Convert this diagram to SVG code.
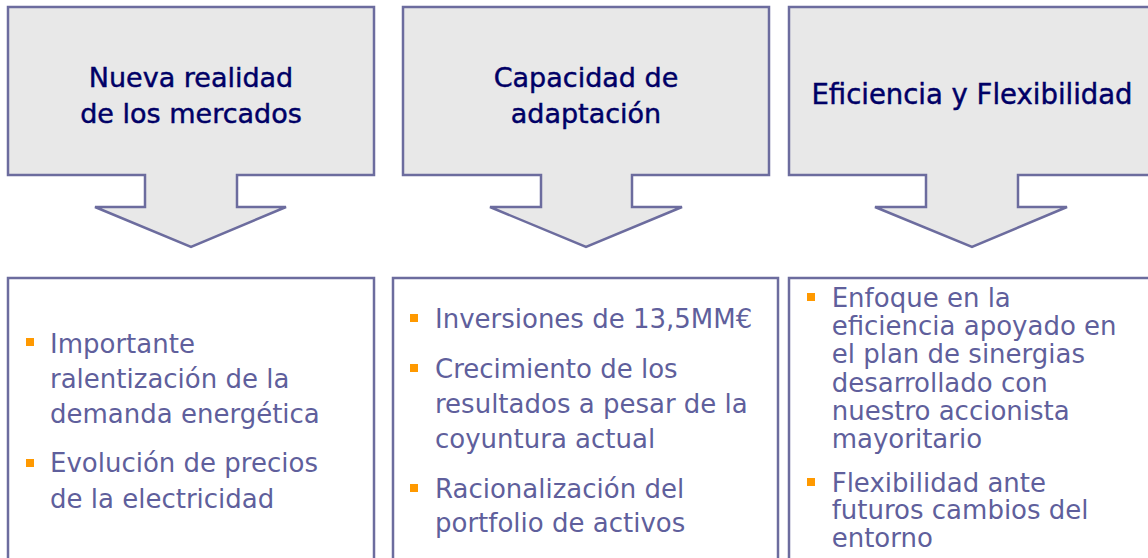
<svg xmlns="http://www.w3.org/2000/svg" width="1148" height="558" viewBox="0 0 1148 558">
<style>
.callout{fill:#E8E8E8;stroke:#6C6C9E;stroke-width:2.5;stroke-linejoin:miter}
.box{fill:#FFFFFF;stroke:#6C6C9E;stroke-width:2.5}
.title{font-family:"DejaVu Sans",Verdana,sans-serif;font-size:27px;fill:#000066;stroke:#000066;stroke-width:0.45;text-anchor:middle}
.body{font-family:"DejaVu Sans",Verdana,sans-serif;font-size:26px;fill:#5F5F9C}
.bul{fill:#FF9900}
</style>
<rect width="1148" height="558" fill="#FFFFFF"/>
<g id="callout-mercados">
<path class="callout" d="M8,7 H374 V175 H237 V207 H286 L191,247 L95,207 H145 V175 H8 Z"/>
<text class="title" x="191" y="87">Nueva realidad</text>
<text class="title" x="191" y="122.5">de los mercados</text>
</g>
<g id="callout-adaptacion">
<path class="callout" d="M403,7 H769 V175 H632 V207 H682 L586,247 L490,207 H541 V175 H403 Z"/>
<text class="title" x="586" y="87">Capacidad de</text>
<text class="title" x="586" y="122.5">adaptación</text>
</g>
<g id="callout-eficiencia">
<path class="callout" d="M789,7 H1160 V175 H1018 V207 H1067 L972,247 L875,207 H926 V175 H789 Z"/>
<text class="title" x="972" y="104" style="font-size:27.5px">Eficiencia y Flexibilidad</text>
</g>
<g id="box-mercados">
<rect class="box" x="8" y="278" width="366" height="300"/>
<rect class="bul" x="26" y="338" width="8" height="8"/>
<text class="body" x="50" y="352.7">Importante</text>
<text class="body" x="50" y="388">ralentización de la</text>
<text class="body" x="50" y="423.3">demanda energética</text>
<rect class="bul" x="26" y="459" width="8" height="8"/>
<text class="body" x="50" y="472.3">Evolución de precios</text>
<text class="body" x="50" y="508.3">de la electricidad</text>
</g>
<g id="box-adaptacion">
<rect class="box" x="393" y="278" width="385" height="300"/>
<rect class="bul" x="410" y="314" width="8" height="8"/>
<text class="body" x="435" y="328.3">Inversiones de 13,5MM€</text>
<rect class="bul" x="410" y="364" width="8" height="8"/>
<text class="body" x="435" y="378.3">Crecimiento de los</text>
<text class="body" x="435" y="413.3">resultados a pesar de la</text>
<text class="body" x="435" y="447.7">coyuntura actual</text>
<rect class="bul" x="410" y="484" width="8" height="8"/>
<text class="body" x="435" y="498.3">Racionalización del</text>
<text class="body" x="435" y="531.7">portfolio de activos</text>
</g>
<g id="box-eficiencia">
<rect class="box" x="789" y="278" width="400" height="300"/>
<rect class="bul" x="807" y="293" width="8" height="8"/>
<text class="body" x="831.7" y="307.3">Enfoque en la</text>
<text class="body" x="831.7" y="335">eficiencia apoyado en</text>
<text class="body" x="831.7" y="363.3">el plan de sinergias</text>
<text class="body" x="831.7" y="392">desarrollado con</text>
<text class="body" x="831.7" y="420">nuestro accionista</text>
<text class="body" x="831.7" y="448.3">mayoritario</text>
<rect class="bul" x="807" y="478" width="8" height="8"/>
<text class="body" x="831.7" y="491.7">Flexibilidad ante</text>
<text class="body" x="831.7" y="519.3">futuros cambios del</text>
<text class="body" x="831.7" y="547.3">entorno</text>
</g>
</svg>
